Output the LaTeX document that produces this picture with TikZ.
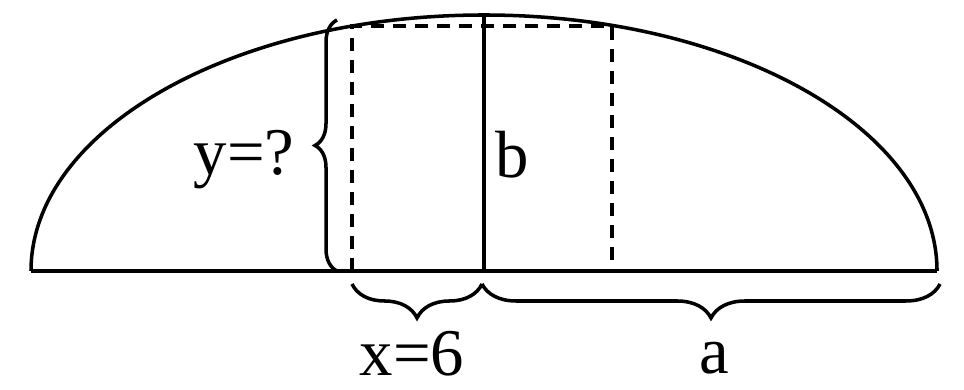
\documentclass[tikz,border=0pt]{standalone}
\usepackage{fontspec}
\setmainfont{Liberation Serif}
\usetikzlibrary{decorations.pathreplacing,calc}

\begin{document}
\begin{tikzpicture}[
    x=0.1mm, y=0.1mm,
    line/.style={line width=1pt},
    dashln/.style={line width=1pt, dash pattern=on 1.3mm off 0.9mm},
    brc/.style={line width=1pt, decorate, decoration={brace, amplitude=#1}},
    lbl/.style={font=\fontsize{19}{21}\selectfont, inner sep=0pt}
  ]
    \useasboundingbox (0,0) rectangle (964,390);
    % half ellipse and its base
    \coordinate (ctr) at (484,119);
    \coordinate (lft) at (31,119);
    \coordinate (rgt) at (937,119);
    \coordinate (top) at (484,375);
    \draw[line] (lft) -- (rgt);
    \draw[line] (rgt) arc[start angle=0, end angle=180, x radius=453, y radius=256];
    \draw[line] (ctr) -- (top);
    % dashed strip
    \coordinate (sl) at (352,119);
    \coordinate (sr) at (612,119);
    \coordinate (tl) at (352,364);
    \coordinate (tr) at (612,364);
    \draw[dashln] (sl) -- (tl) -- (tr) -- (sr);
    % braces
    \coordinate (ybot) at (337,119);
    \coordinate (ytop) at (337,370);
    \draw[brc=2.2mm] (ybot) -- (ytop);
    \coordinate (xa) at (352,106);
    \coordinate (xb) at (482,106);
    \coordinate (xc) at (940,106);
    \draw[brc=3.4mm] (xb) -- (xa);
    \draw[brc=3.4mm] (xc) -- (xb);
    % labels
    \node[lbl] (ylbl) at (244,230) {y=?};
    \node[lbl] (blbl) at (512,235) {b};
    \node[lbl] (xlbl) at (412,36) {x=6};
    \node[lbl] (albl) at (714,32) {a};
\end{tikzpicture}
\end{document}
